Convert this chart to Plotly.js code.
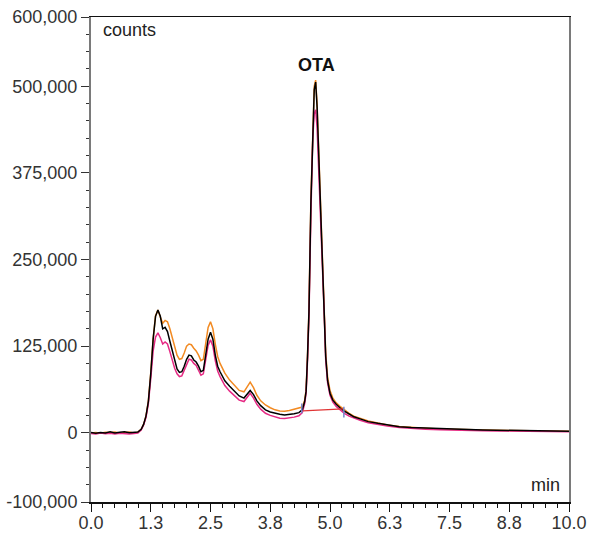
<!DOCTYPE html>
<html>
<head>
<meta charset="utf-8">
<script src="https://cdn.plot.ly/plotly-3.0.1.min.js"></script>
<style>html,body{margin:0;padding:0;background:#fff;}#chart{width:593px;height:535px;}</style>
</head>
<body>
<div id="chart"></div>
<script>
// Retention time (min)
const timeMin = [0.00,0.10,0.20,0.30,0.40,0.50,0.60,0.70,0.80,0.90,0.98,1.05,1.10,1.15,1.20,1.25,1.30,1.35,1.40,1.45,1.50,1.55,1.60,1.65,1.70,1.75,1.80,1.85,1.90,1.95,2.00,2.05,2.10,2.15,2.20,2.25,2.30,2.35,2.40,2.45,2.50,2.55,2.60,2.65,2.70,2.80,2.90,3.00,3.10,3.20,3.27,3.33,3.40,3.47,3.55,3.65,3.75,3.85,3.95,4.05,4.15,4.25,4.35,4.42,4.47,4.50,4.53,4.56,4.60,4.64,4.67,4.70,4.73,4.76,4.80,4.84,4.88,4.91,4.95,5.00,5.06,5.13,5.21,5.30,5.40,5.50,5.63,5.80,6.00,6.20,6.45,6.70,7.00,7.30,7.60,7.90,8.20,8.50,8.80,9.10,9.40,9.70,10.00];

const blackCounts = [500,-800,300,-500,1200,-300,600,1500,-200,900,1000,5000,12000,24000,45000,85000,135000,168000,177000,168000,150000,152000,146000,132000,118000,103000,92000,87000,88000,96000,106000,112000,111000,105000,102000,96000,88000,90000,112000,135000,145000,135000,112000,96000,88000,75000,67000,60000,53000,50000,56000,61000,55000,46000,39000,33000,30000,28000,26500,25500,26000,27500,29000,33000,45000,60000,110000,175000,330000,450000,495000,506000,470000,410000,330000,250000,175000,110000,75000,57000,47000,41000,36000,31000,27000,23000,20000,16000,13500,11000,8700,7500,6500,5500,5000,4500,4000,3500,3000,3200,2800,2500,2000];

const orangeCounts = [-600,400,-900,800,-200,1000,-700,300,1100,-400,800,5000,12000,24000,46000,86000,136000,169000,177000,167000,158000,162000,160000,150000,137000,123000,112000,106000,107000,115000,125000,128000,127000,122000,118000,112000,104000,106000,130000,152000,160000,150000,128000,110000,100000,86000,76000,68000,61000,59000,67000,73000,65000,54000,46000,40000,36000,33000,31500,31000,32000,33500,35000,37000,47000,62000,112000,178000,335000,455000,500000,509000,474000,415000,335000,255000,180000,115000,80000,61000,50000,43000,38000,33000,28000,24000,21000,17000,14000,11000,9000,7500,6500,5500,4800,4500,3800,3500,3200,3000,2800,2200,2000];

const pinkCounts = [-1200,-1800,-600,-1500,-900,-2000,-800,-1400,-1700,-1000,-600,4000,11000,22000,42000,78000,118000,138000,144000,137000,128000,131000,128000,117000,104000,93000,85000,81000,82000,90000,100000,106000,105000,100000,97000,91000,83000,85000,105000,126000,134000,125000,104000,89000,81000,68000,60000,53000,47000,45000,52000,57000,50000,41000,34000,28000,25000,23000,21000,20500,21000,22500,24500,29000,42000,57000,105000,168000,315000,425000,460000,466000,440000,390000,318000,242000,170000,105000,72000,54000,44000,38000,33000,28000,24000,21000,18000,14500,12000,9500,7500,6000,5000,4200,3500,3500,2800,2500,2200,2000,1800,1500,1500];

// Integration baseline of the OTA peak
const baselineT = [4.43, 5.28];
const baselineV = [31500, 34500];
// Peak start / end markers
const markerT = [4.41, 5.29];
const markerLo = [28000, 22000];
const markerHi = [42000, 37500];

// Axis ticks
const xTickVals = [0, 1.25, 2.5, 3.75, 5, 6.25, 7.5, 8.75, 10];
const xTickText = ['0.0','1.3','2.5','3.8','5.0','6.3','7.5','8.8','10.0'];
const yTickVals = [-100000, 0, 125000, 250000, 375000, 500000, 600000];
const yTickText = ['-100,000','0','125,000','250,000','375,000','500,000','600,000'];

const mx = [], my = [];
for (let i = 0; i < markerT.length; i++) {
  mx.push(markerT[i], markerT[i], null);
  my.push(markerLo[i], markerHi[i], null);
}

const FONT = 'Liberation Sans, Arial, Helvetica, sans-serif';

const traces = [
  {x: timeMin, y: orangeCounts, type: 'scatter', mode: 'lines', line: {color: '#F28A22', width: 1.5}, hoverinfo: 'skip'},
  {x: timeMin, y: pinkCounts, type: 'scatter', mode: 'lines', line: {color: '#E62A84', width: 1.5}, hoverinfo: 'skip'},
  {x: timeMin, y: blackCounts, type: 'scatter', mode: 'lines', line: {color: '#000000', width: 1.5}, hoverinfo: 'skip'},
  {x: baselineT, y: baselineV, type: 'scatter', mode: 'lines', line: {color: '#E03535', width: 1.2}, hoverinfo: 'skip'},
  {x: mx, y: my, type: 'scatter', mode: 'lines', line: {color: '#7486CC', width: 1.5}, hoverinfo: 'skip'}
];

const layout = {
  width: 593, height: 535,
  margin: {l: 91, r: 24, t: 17, b: 33, pad: 0},
  paper_bgcolor: '#ffffff', plot_bgcolor: '#ffffff',
  showlegend: false,
  font: {family: FONT, size: 18, color: '#333333'},
  xaxis: {
    range: [0, 10], showgrid: false, zeroline: false,
    showline: true, mirror: true, linecolor: '#111111', linewidth: 1.5,
    ticks: 'outside', ticklen: 8, tickwidth: 1, tickcolor: '#111111',
    ticklabelstandoff: -4,
    tickmode: 'array', tickvals: xTickVals, ticktext: xTickText,
    tickfont: {family: FONT, size: 18, color: '#333333'},
    minor: {tickmode: 'linear', tick0: 0, dtick: 0.25, ticklen: 4, tickwidth: 1, tickcolor: '#111111', showgrid: false}
  },
  yaxis: {
    range: [-100000, 600000], showgrid: false, zeroline: false,
    showline: true, mirror: true, linecolor: '#7a7a7a', linewidth: 2,
    ticks: 'outside', ticklen: 8, tickwidth: 1, tickcolor: '#333333',
    tickmode: 'array', tickvals: yTickVals, ticktext: yTickText,
    tickfont: {family: FONT, size: 18, color: '#333333'},
    minor: {tickmode: 'linear', tick0: 0, dtick: 25000, ticklen: 3, tickwidth: 1, tickcolor: '#333333', showgrid: false}
  },
  annotations: [
    {xref: 'paper', yref: 'paper', x: 0.021, y: 0.973, xanchor: 'left', yanchor: 'middle', text: 'counts', showarrow: false, font: {family: FONT, size: 18, color: '#222222'}},
    {xref: 'paper', yref: 'paper', x: 0.985, y: 0.035, xanchor: 'right', yanchor: 'middle', text: 'min', showarrow: false, font: {family: FONT, size: 18, color: '#222222'}},
    {xref: 'x', yref: 'y', x: 4.72, y: 531000, xanchor: 'center', yanchor: 'middle', text: '<b>OTA</b>', showarrow: false, font: {family: FONT, size: 18, color: '#111111'}}
  ]
};

Plotly.newPlot('chart', traces, layout, {staticPlot: true, displayModeBar: false});
</script>
</body>
</html>
